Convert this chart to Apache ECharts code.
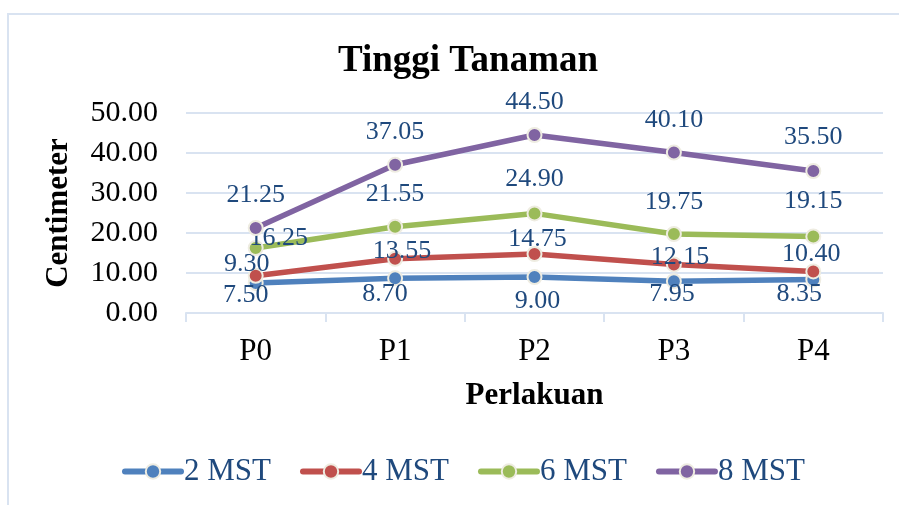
<!DOCTYPE html>
<html>
<head>
<meta charset="utf-8">
<script src="https://cdn.jsdelivr.net/npm/echarts@6/dist/echarts.min.js"></script>
<style>html,body{margin:0;padding:0;background:#fff}#c{width:899px;height:505px}</style>
</head>
<body>
<div id="c"></div>
<script>
const categories = ['P0', 'P1', 'P2', 'P3', 'P4'];
const seriesNames = ['2 MST', '4 MST', '6 MST', '8 MST'];
const mst2 = [7.50, 8.70, 9.00, 7.95, 8.35];
const mst4 = [9.30, 13.55, 14.75, 12.15, 10.40];
const mst6 = [16.25, 21.55, 24.90, 19.75, 19.15];
const mst8 = [21.25, 37.05, 44.50, 40.10, 35.50];
const yTicks = [0, 10, 20, 30, 40, 50];

// label placement (styling, relative to each point)
const labelOffsets = [
  [[-10, 12], [-10, 16], [3, 24], [-2, 13], [-14, 15]],
  [[-9, -12], [7, -8], [3, -15], [6, -7], [-2, -17]],
  [[23, -10], [0, -33], [0, -34], [0, -32], [0, -35]],
  [[0, -33], [0, -33], [0, -33], [0, -32], [0, -34]]
];
const colors = ['#4f81bd', '#c0504d', '#9bbb59', '#8064a2'];
const values = [mst2, mst4, mst6, mst8];
const FONT = "'Liberation Serif', 'Times New Roman', serif";
const LABEL_COLOR = '#1f497d';
const GRID_COLOR = '#d9e3f1';

const series = values.map((vals, si) => ({
  name: seriesNames[si],
  type: 'line',
  data: vals.map((v, i) => ({
    value: v,
    label: { offset: labelOffsets[si][i] }
  })),
  symbol: 'circle',
  symbolSize: 14,
  lineStyle: { color: colors[si], width: 5.5 },
  itemStyle: { color: colors[si], borderColor: '#eeece1', borderWidth: 2 },
  label: {
    show: true,
    position: 'inside',
    formatter: p => p.value.toFixed(2),
    fontFamily: FONT,
    fontSize: 26,
    color: LABEL_COLOR
  },
  emphasis: { disabled: true },
  animation: false,
  z: 2 + si
}));

const chart = echarts.init(document.getElementById('c'), null, { renderer: 'canvas' });
chart.setOption({
  animation: false,
  graphic: [{
    type: 'rect',
    shape: { x: 8, y: 14, width: 1000, height: 600 },
    style: { fill: 'none', stroke: '#d9e3f1', lineWidth: 2 },
    silent: true,
    z: -10
  }],
  title: {
    text: 'Tinggi Tanaman',
    left: 463,
    top: 38,
    textAlign: 'center',
    textStyle: { fontFamily: FONT, fontWeight: 'bold', fontSize: 37, color: '#000' }
  },
  legend: {
    data: seriesNames,
    left: 122,
    top: 456,
    padding: 0,
    itemWidth: 56,
    itemHeight: 18,
    itemGap: 29,
    lineStyle: { width: 6, cap: 'round' },
    textStyle: { fontFamily: FONT, fontSize: 31, color: LABEL_COLOR, padding: [0, 0, 0, -2] }
  },
  grid: { left: 186, right: 16, top: 113, bottom: 192, containLabel: false },
  xAxis: {
    type: 'category',
    data: categories,
    boundaryGap: true,
    name: 'Perlakuan',
    nameLocation: 'middle',
    nameGap: 67,
    nameTextStyle: { fontFamily: FONT, fontWeight: 'bold', fontSize: 31, color: '#000' },
    axisLine: { lineStyle: { color: GRID_COLOR, width: 2 } },
    axisTick: { show: true, length: 9, lineStyle: { color: GRID_COLOR, width: 2 } },
    axisLabel: { fontFamily: FONT, fontSize: 31, color: '#000', margin: 23 }
  },
  yAxis: {
    type: 'value',
    min: yTicks[0],
    max: yTicks[yTicks.length - 1],
    interval: yTicks[1] - yTicks[0],
    name: 'Centimeter',
    nameLocation: 'middle',
    nameGap: 112,
    nameRotate: 90,
    nameTextStyle: { fontFamily: FONT, fontWeight: 'bold', fontSize: 31, color: '#000' },
    axisLine: { show: false },
    axisTick: { show: false },
    splitLine: { lineStyle: { color: GRID_COLOR, width: 2 } },
    axisLabel: {
      fontFamily: FONT, fontSize: 30, color: '#000', margin: 28,
      formatter: v => v.toFixed(2)
    }
  },
  series: series
});
</script>
</body>
</html>
